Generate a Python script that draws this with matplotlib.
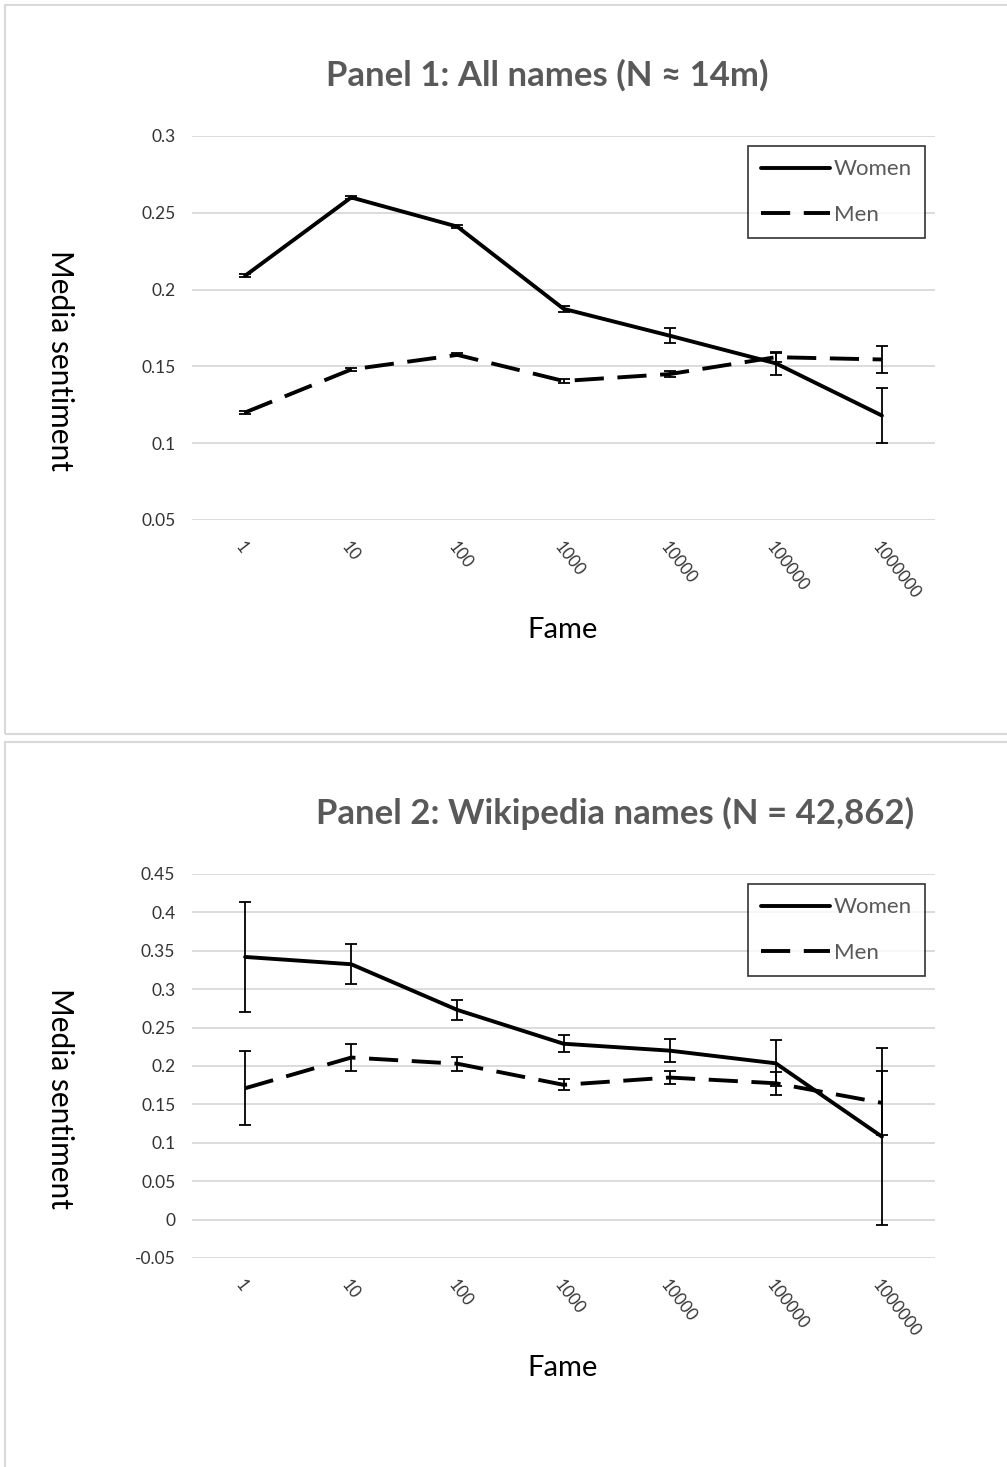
import matplotlib
matplotlib.use('Agg')
import matplotlib.pyplot as plt
from matplotlib.patches import Rectangle

W, H = 1007, 1467
FONT = 'Lato'

fame = ['1', '10', '100', '1000', '10000', '100000', '1000000']

# Panel 1: all names
p1_women = [0.209, 0.260, 0.241, 0.1875, 0.170, 0.152, 0.118]
p1_women_err = [0.001, 0.001, 0.001, 0.002, 0.005, 0.0075, 0.018]
p1_men = [0.120, 0.148, 0.1575, 0.1405, 0.145, 0.156, 0.1545]
p1_men_err = [0.001, 0.001, 0.001, 0.0015, 0.002, 0.003, 0.0085]

# Panel 2: Wikipedia names
p2_women = [0.342, 0.3325, 0.273, 0.229, 0.220, 0.2035, 0.108]
p2_women_err = [0.072, 0.026, 0.0125, 0.011, 0.015, 0.030, 0.115]
p2_men = [0.171, 0.211, 0.203, 0.1755, 0.185, 0.1775, 0.152]
p2_men_err = [0.048, 0.017, 0.009, 0.007, 0.009, 0.015, 0.042]


def px_axes(fig, left, top, right, bottom):
    return fig.add_axes([left / W, 1 - bottom / H, (right - left) / W, (bottom - top) / H])


def fig_text(fig, x, y, s, **kw):
    fig.text(x / W, 1 - y / H, s, **kw)


def draw_panel(fig, box_top, box_bottom, ax_top, ax_bottom, title, title_x,
               women, women_err, men, men_err, ylim, yticks, ylabels):
    # light grey chart frame
    fig.patches.append(Rectangle((5 / W, 1 - box_bottom / H), 1.1, (box_bottom - box_top) / H,
                                 transform=fig.transFigure, fill=False,
                                 edgecolor='#d9d9d9', linewidth=1.5))

    ax = px_axes(fig, 192, ax_top, 935, ax_bottom)
    x = list(range(len(fame)))

    ax.errorbar(x, women, yerr=women_err, fmt='none', ecolor='black',
                elinewidth=1.3, capsize=4, capthick=1.3, zorder=3)
    ax.errorbar(x, men, yerr=men_err, fmt='none', ecolor='black',
                elinewidth=1.3, capsize=4, capthick=1.3, zorder=3)
    ax.plot(x, women, color='black', lw=2.8, solid_joinstyle='round',
            solid_capstyle='round', label='Women', zorder=4)
    ax.plot(x, men, color='black', lw=2.8, linestyle=(0, (7.5, 3.5)),
            dash_capstyle='butt', label='Men', zorder=4)

    ax.set_xlim(-0.5, len(fame) - 0.5)
    ax.set_ylim(*ylim)
    ax.set_yticks(yticks)
    ax.set_yticklabels(ylabels, fontsize=12.5, color='#333333', family=FONT)
    ax.set_xticks(x)
    ax.set_xticklabels(fame, fontsize=12, color='#333333', family=FONT,
                       rotation=-52, ha='left', va='top', rotation_mode='anchor')
    ax.tick_params(axis='both', length=0)
    ax.tick_params(axis='x', pad=14)
    ax.tick_params(axis='y', pad=12)
    for s in ax.spines.values():
        s.set_visible(False)
    ax.grid(axis='y', color='#d9d9d9', linewidth=1.3)
    ax.set_axisbelow(True)

    leg = ax.legend(loc='upper right', bbox_to_anchor=(0.9865, 0.974), frameon=True,
                    fancybox=False, edgecolor='black', handlelength=3.1,
                    labelspacing=1.15, borderpad=0.6, handletextpad=0.15,
                    borderaxespad=0, prop={'family': FONT, 'size': 16})
    leg.get_frame().set_linewidth(1.2)
    for t in leg.get_texts():
        t.set_color('#595959')

    fig_text(fig, title_x, ax_top - 61, title, ha='center', va='center',
             fontsize=25, fontweight='bold', color='#595959', family=FONT)
    fig_text(fig, 60, (ax_top + ax_bottom) / 2 + 32, 'Media sentiment', rotation=270,
             ha='center', va='center', fontsize=21.5, color='black', family=FONT)
    fig_text(fig, 563, ax_bottom + 110, 'Fame', ha='center', va='center',
             fontsize=21, color='black', family=FONT)
    return ax


fig = plt.figure(figsize=(W / 100, H / 100), dpi=100)

draw_panel(fig, 5, 734, 136, 520, 'Panel 1: All names (N ≈ 14m)', 547,
           p1_women, p1_women_err, p1_men, p1_men_err,
           (0.05, 0.3), [0.05, 0.1, 0.15, 0.2, 0.25, 0.3],
           ['0.05', '0.1', '0.15', '0.2', '0.25', '0.3'])

draw_panel(fig, 742, 1480, 874, 1258, 'Panel 2: Wikipedia names (N = 42,862)', 615,
           p2_women, p2_women_err, p2_men, p2_men_err,
           (-0.05, 0.45), [-0.05, 0, 0.05, 0.1, 0.15, 0.2, 0.25, 0.3, 0.35, 0.4, 0.45],
           ['-0.05', '0', '0.05', '0.1', '0.15', '0.2', '0.25', '0.3', '0.35', '0.4', '0.45'])

fig.savefig('out.png', dpi=100)
